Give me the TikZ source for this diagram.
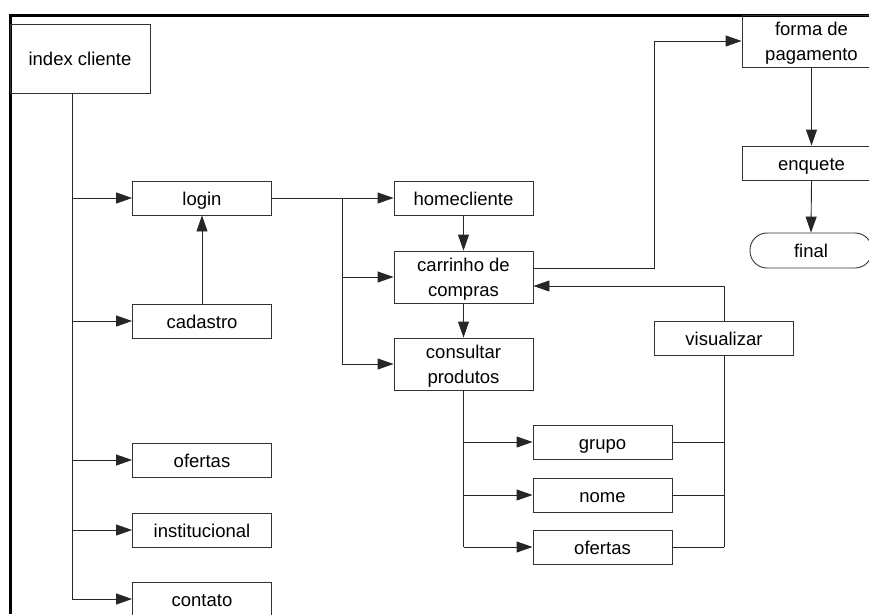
\documentclass[tikz,border=0pt]{standalone}
\usepackage{fontspec}
\setmainfont{Liberation Sans}
\usetikzlibrary{arrows.meta,positioning}

\tikzset{
    box/.style={draw=black!80, line width=0.9pt, minimum width=139pt, minimum height=34pt,
        inner sep=0pt, align=center, text height=16pt, text depth=1.5pt,
        font=\fontsize{18.5}{25}\selectfont},
    tallbox/.style={box, minimum height=52pt, text height=, text depth=0pt},
    endbox/.style={box, rounded corners=17pt, minimum width=122pt, minimum height=35pt},
    arr/.style={-{Triangle[length=16pt,width=11pt]}},
    wire/.style={draw=black!85, line width=0.9pt}
}

\begin{document}
\begin{tikzpicture}[x=1pt, y=-1pt]
    \useasboundingbox (0,0) rectangle (869,614);
    \clip (0,0) rectangle (869,614);

    % frame
    \draw[line width=2.5pt] (869,15.3) -- (10.3,15.3) -- (10.3,614);

    % left column
    \node[box, minimum width=140pt, minimum height=69pt] (idx) at (80,58.5) {index cliente};
    \node[box] (login) at (202,198) {login};
    \node[box] (cadastro) at (202,321) {cadastro};
    \node[box] (ofertasA) at (202,460) {ofertas};
    \node[box] (instit) at (202,530) {institucional};
    \node[box] (contato) at (202,599) {contato};

    % middle column
    \node[box] (home) at (463.5,198) {homecliente};
    \node[tallbox] (carrinho) at (463.5,277) {carrinho de\\compras};
    \node[tallbox] (consultar) at (463.5,364) {consultar\\produtos};
    \node[box] (grupo) at (602.5,442) {grupo};
    \node[box] (nome) at (602.5,495) {nome};
    \node[box] (ofertasB) at (602.5,547) {ofertas};
    \node[box] (visualizar) at (724,338) {visualizar};

    % right column
    \node[tallbox] (pagamento) at (811.5,41) {forma de\\pagamento};
    \node[box] (enquete) at (811.5,163) {enquete};
    \node[endbox] (final) at (811,250.5) {final};

    \coordinate (t0) at (72,0);
    \coordinate (t1) at (342,0);
    \coordinate (t2) at (654,0);

    \draw[wire] (idx.south -| t0) -- (contato.west -| t0);
    \foreach \n in {login, cadastro, ofertasA, instit, contato} {
        \draw[wire, arr] (\n.west -| t0) -- (\n.west);
    }
    \draw[wire, arr] (cadastro.north) -- (login.south);

    \draw[wire] (login.east) -- (login.east -| t1) -- (consultar.west -| t1);
    \foreach \n in {home, carrinho, consultar} {
        \draw[wire, arr] (\n.west -| t1) -- (\n.west);
    }
    \draw[wire, arr] (home.south) -- (carrinho.north);
    \draw[wire, arr] (carrinho.south) -- (consultar.north);

    \draw[wire, arr] ([yshift=9pt]carrinho.east) -- ([yshift=9pt]carrinho.east -| t2) |- (pagamento.west);
    \draw[wire, arr] (pagamento.south) -- (enquete.north);
    \draw[wire, arr] (enquete.south) -- (final.north);

    \draw[wire] (consultar.south) -- (consultar.south |- ofertasB.west);
    \foreach \n in {grupo, nome, ofertasB} {
        \draw[wire, arr] (consultar.south |- \n.west) -- (\n.west);
        \draw[wire] (\n.east) -- (\n.east -| visualizar.south);
    }
    \draw[wire] (visualizar.south) -- (visualizar.south |- ofertasB.east);
    \draw[wire, arr] (visualizar.north) |- ([yshift=-9pt]carrinho.east);
\end{tikzpicture}
\end{document}
